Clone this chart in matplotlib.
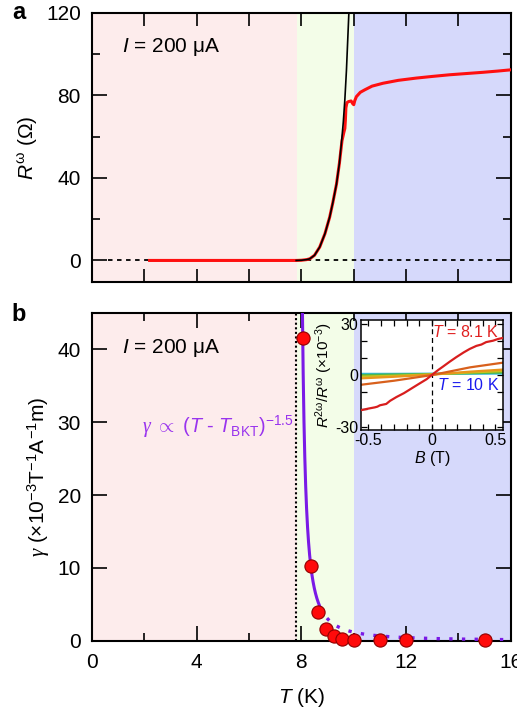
import numpy as np
import matplotlib
matplotlib.use("Agg")
import matplotlib.pyplot as plt
from matplotlib.ticker import MultipleLocator

plt.rcParams['font.family'] = ['Liberation Sans', 'DejaVu Sans']
plt.rcParams['mathtext.fontset'] = 'custom'
plt.rcParams['mathtext.rm'] = 'Liberation Sans'
plt.rcParams['mathtext.it'] = 'Liberation Sans:italic'
plt.rcParams['mathtext.bf'] = 'Liberation Sans:bold'
plt.rcParams['mathtext.sf'] = 'Liberation Serif:italic'

# ---- data ----
# panel a: R^w vs T
red_T = [2.2, 7.8, 8.0, 8.2, 8.32, 8.5, 8.7, 8.9, 9.08, 9.2, 9.34, 9.45, 9.55,
         9.62, 9.66, 9.68, 9.70, 9.74, 9.8, 9.9, 9.96, 10.0, 10.04, 10.1, 10.25,
         10.42, 10.7, 11.12, 11.7, 12.39, 13.0, 13.66, 14.3, 14.94, 15.5, 16.0]
red_R = [0, 0, 0.1, 0.4, 0.8, 2.5, 6.5, 13, 21, 28, 37, 47, 58,
         62, 64, 68, 74, 76.5, 77, 77.3, 76, 75.5, 77.5, 79.4, 81.5,
         82.7, 84.5, 85.9, 87.3, 88.4, 89.2, 90.0, 90.6, 91.2, 91.8, 92.4]
fit_T = [7.8, 8.0, 8.2, 8.32, 8.5, 8.7, 8.9, 9.08, 9.2, 9.34, 9.45, 9.53,
         9.6, 9.66, 9.72, 9.78, 9.82]
fit_R = [0, 0.1, 0.4, 0.8, 2.5, 6.5, 13, 21, 28, 37, 47, 57,
         67, 78, 92, 110, 122]

# panel b: gamma vs T
gam_T = [8.05, 8.35, 8.65, 8.95, 9.25, 9.55, 10.0, 11.0, 12.0, 15.0]
gam_val = [41.6, 10.3, 3.9, 1.6, 0.6, 0.23, 0.08, 0.05, 0.05, 0.05]
T_BKT = 7.8
fit_Tc = 7.85      # fit gamma = A (T - Tc)^-1.5
fit_A = 3.72

# inset: R2w/Rw vs B
ins_B_red = [-0.555, -0.5, -0.45, -0.43, -0.41, -0.36, -0.33, -0.28, -0.22,
             -0.146, -0.1, -0.042, 0.01, 0.05, 0.088, 0.14, 0.193, 0.25,
             0.297, 0.35, 0.39, 0.427, 0.48, 0.52, 0.557]
ins_red = [-20.4, -19.5, -18.8, -18.4, -17.6, -16.8, -15.0, -12.8, -10.5,
           -7.1, -5.0, -2.4, 0.7, 3.0, 5.0, 7.8, 10.5, 13.2,
           15.2, 17.0, 17.8, 19.2, 20.0, 21.0, 21.6]
ins_B = [-0.555, -0.3, 0.0, 0.3, 0.557]
ins_curves = [
    ('#d8601c', [-5.6, -3.3, 0.0, 4.5, 7.2]),
    ('#e8951c', [-1.9, -1.0, 0.3, 2.0, 3.2]),
    ('#c8c020', [-0.9, -0.4, 0.4, 1.5, 2.3]),
    ('#50b848', [0.0, 0.3, 0.6, 1.1, 1.5]),
    ('#30b8d8', [0.7, 0.7, 0.8, 0.8, 0.9]),
]

pink = '#fdecec'
green = '#f3fde8'
blue = '#d6d9fb'
purple = '#7a1ae6'

fig = plt.figure(figsize=(5.17, 7.16), dpi=100)
axA = fig.add_axes([0.178, 0.606, 0.810, 0.376])
axB = fig.add_axes([0.178, 0.105, 0.810, 0.458])

for ax in (axA, axB):
    ax.axvspan(0, 7.83, color=pink, lw=0, zorder=0)
    ax.axvspan(7.83, 10.0, color=green, lw=0, zorder=0)
    ax.axvspan(10.0, 16, color=blue, lw=0, zorder=0)
    ax.set_xlim(0, 16)
    for s in ax.spines.values():
        s.set_linewidth(1.5)
    ax.tick_params(direction='in', which='both', top=True, right=True,
                   labelsize=15, width=1.2, pad=8)
    ax.tick_params(which='major', length=10.5)
    ax.tick_params(which='minor', length=5.5)

# ---- panel a ----
axA.plot([0.6, 15.6], [0, 0], color='black', lw=1.3, ls=(0, (2.5, 2.5)), zorder=2)
axA.plot(fit_T, fit_R, color='black', lw=1.2, zorder=4)
axA.plot(red_T, red_R, color='#ff1010', lw=2.2, zorder=3)
axA.set_ylim(-10.5, 120)
axA.xaxis.set_major_locator(MultipleLocator(2))
axA.set_xticklabels([])
axA.tick_params(axis='x', which='major', length=9.5)
axA.yaxis.set_major_locator(MultipleLocator(40))
axA.yaxis.set_minor_locator(MultipleLocator(20))
axA.set_ylabel(r'$R^{\mathrm{\omega}}$ ($\Omega$)', fontsize=15, labelpad=4)
axA.text(1.15, 103.6, r'$I$ = 200 μA', fontsize=15, va='center')

# ---- panel b ----
axB.axvline(T_BKT, color='black', lw=1.5, ls=(0, (1, 1.2)), zorder=2)
T_solid = np.linspace(8.04, 8.72, 200)
T_dot = np.linspace(8.72, 16, 200)
axB.plot(T_solid, fit_A * (T_solid - fit_Tc) ** -1.5, color=purple, lw=2.2, zorder=3)
axB.plot(T_dot, fit_A * (T_dot - fit_Tc) ** -1.5, color=purple, lw=2.4,
         ls=(0, (1, 2.8)), zorder=3)
axB.plot(gam_T, gam_val, ls='none', marker='o', ms=9.5, mfc='#ff0a0a',
         mec='#900000', mew=0.8, zorder=5, clip_on=False)
axB.set_ylim(0, 45)
axB.xaxis.set_major_locator(MultipleLocator(4))
axB.xaxis.set_minor_locator(MultipleLocator(2))
axB.yaxis.set_major_locator(MultipleLocator(10))
axB.set_xticks([0, 4, 8, 12, 16])
axB.set_xticklabels(['0', '4', '8', '12', '16'])
axB.tick_params(axis='x', pad=9)
axB.set_xlabel(r'$T$ (K)', fontsize=15, labelpad=10)
axB.set_ylabel(r'$\mathsf{\gamma}$ (×10$^{-3}$T$^{-1}$A$^{-1}$m)', fontsize=15, labelpad=4)
axB.text(1.15, 40.2, r'$I$ = 200 μA', fontsize=15, va='center')
axB.text(1.9, 29.4, r'$\mathsf{\gamma}$ $\propto$ ($T$ - $T_{\mathrm{BKT}}$)$^{\mathrm{-1.5}}$',
         fontsize=14.2, color='#9933ee', va='center')

# ---- inset ----
axI = fig.add_axes([0.698, 0.3994, 0.275, 0.1535])
axI.set_facecolor('white')
axI.axvline(0, color='black', lw=0.9, ls=(0, (4, 3)), zorder=1)
for col, vals in ins_curves[::-1]:
    axI.plot(ins_B, vals, color=col, lw=1.6, zorder=2)
axI.plot(ins_B_red, ins_red, color='#d81e1e', lw=1.6, zorder=3)
axI.set_xlim(-0.56, 0.56)
axI.set_ylim(-32, 32)
axI.xaxis.set_major_locator(MultipleLocator(0.5))
axI.xaxis.set_minor_locator(MultipleLocator(0.1))
axI.yaxis.set_major_locator(MultipleLocator(30))
axI.yaxis.set_minor_locator(MultipleLocator(10))
axI.set_xticks([-0.5, 0, 0.5])
axI.set_xticklabels(['-0.5', '0', '0.5'])
axI.set_yticks([-30, 0, 30])
axI.set_yticklabels(['-30', '0', '30'])
for s in axI.spines.values():
    s.set_linewidth(1.1)
axI.tick_params(direction='in', which='both', top=True, right=True,
                labelsize=11.5, width=0.9, length=4.3, pad=2)
axI.set_xlabel(r'$B$ (T)', fontsize=11.5, labelpad=1)
axI.set_ylabel(r'$R^{\mathrm{2\omega}}/R^{\mathrm{\omega}}$ (×10$^{-3}$)', fontsize=11, labelpad=0)
axI.text(0.53, 25, r'$T$ = 8.1 K', color='#e02020', fontsize=11.5, ha='right', va='center')
axI.text(0.53, -6, r'$T$ = 10 K', color='#1a1aee', fontsize=11.5, ha='right', va='center')

fig.text(0.023, 0.982, 'a', fontsize=17, fontweight='bold', va='center')
fig.text(0.023, 0.561, 'b', fontsize=17, fontweight='bold', va='center')

fig.savefig('out.png', dpi=100)
